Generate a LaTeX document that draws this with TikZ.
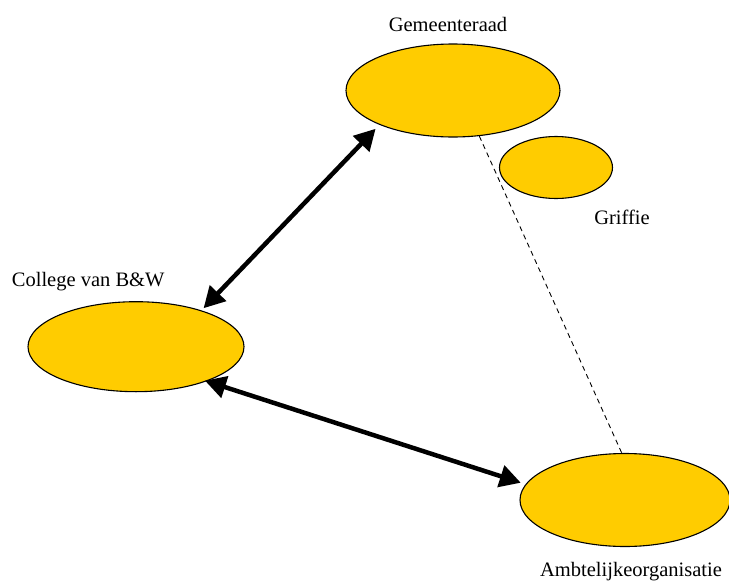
\documentclass[tikz,border=0pt]{standalone}
\usepackage{fontspec}
\setmainfont{Liberation Serif}
\usetikzlibrary{shapes.geometric,arrows.meta}
\definecolor{goud}{RGB}{255,204,0}
\tikzset{
  blob/.style={ellipse, draw=black, line width=1.1pt, fill=goud, inner sep=0pt},
  lbl/.style={font=\fontsize{20.5}{24}\selectfont, inner sep=0pt},
  biarrow/.style={line width=4.5pt, {Triangle[length=21pt,width=22pt]}-{Triangle[length=21pt,width=22pt]}},
  dashlink/.style={line width=0.9pt, dash pattern=on 5pt off 4pt}
}
\begin{document}
\begin{tikzpicture}[x=1pt,y=-1pt]
\useasboundingbox (0,0) rectangle (729,581);
\clip (0,0) rectangle (729,581);
\node[blob, minimum width=214pt, minimum height=93pt] (g) at (453,90.5) {};
\node[blob, minimum width=113pt, minimum height=62pt] (gr) at (556,167.5) {};
\node[blob, minimum width=216pt, minimum height=90pt] (c) at (136,346.7) {};
\node[blob, minimum width=210pt, minimum height=93pt] (a) at (625,500) {};
\node[lbl, anchor=base] (tg) at (448,31.7) {Gemeenteraad};
\node[lbl, anchor=base] (tgr) at (622,224) {Griffie};
\node[lbl, anchor=base west] (tc) at (11.7,286) {College van B\&W};
\node[lbl, anchor=base] (ta) at (631,576.7) {Ambtelijkeorganisatie};
\draw[biarrow, shorten <=3pt, shorten >=5.5pt] (c.29.5) -- (g.205);
\draw[biarrow, shorten <=-2pt, shorten >=5pt] (c.-26.4) -- (a.171.9);
\draw[dashlink] (g.-60) -- (a.94);
\end{tikzpicture}
\end{document}
